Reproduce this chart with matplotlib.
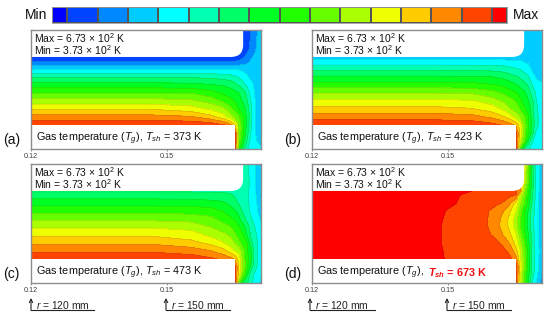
"""Gas temperature contours in the reactor channel for four shower head temperatures."""
import matplotlib
matplotlib.use("Agg")
import matplotlib.pyplot as plt
from matplotlib.patches import PathPatch, Rectangle
from matplotlib.path import Path
import numpy as np

plt.rcParams["font.family"] = ["Liberation Sans", "DejaVu Sans"]
plt.rcParams["mathtext.fontset"] = "custom"
plt.rcParams["mathtext.rm"] = "Liberation Sans"
plt.rcParams["mathtext.it"] = "Liberation Sans:italic"
plt.rcParams["mathtext.bf"] = "Liberation Sans:bold"
plt.rcParams["mathtext.bfit"] = "Liberation Sans:italic:bold"

# band edges in K and the colour of each band
levels = [373, 383, 403, 423, 443, 463, 483, 503, 523, 543, 563, 583, 603, 623, 643, 663, 673]
band_colors = ["#0000ff", "#0044ff", "#0088ff", "#00ccff", "#00ffff", "#00ffb0", "#00ff66", "#00ff22",
               "#22ff00", "#66ff00", "#aaff00", "#eeff00", "#ffcc00", "#ff8800", "#ff4400", "#ff0000"]

# radius (mm) and height (mm) of the sampled grid
z_mm = [0, 1.8, 3.5, 5.3, 7.1, 8.8, 10.6, 12.4, 14.1, 15.9, 17.6, 19.4, 20.3, 22.1, 24.3, 26.3]
r_mm = [120, 146.5, 155.3, 159.7, 162.4, 164.1, 165, 165.9, 166.8, 167.7, 168.5, 169.4, 170.7]
r_mm_d = [120, 142.1, 147.6, 149.8, 153.1, 156.4, 158.6, 160.8, 162.4, 163.7, 165, 165.9, 166.8,
          167.7, 168.5, 169.4, 170.1, 170.7]

# temperature (K), one row per height, bottom first
temp_a = [
    [680, 680, 680, 680, 680, 680, 650, 530, 490, 465, 455, 450, 445],
    [680, 680, 680, 680, 680, 680, 650, 550, 510, 480, 455, 445, 438],
    [680, 680, 680, 680, 680, 680, 650, 557, 526, 490, 462, 444, 436],
    [659, 659, 659, 655, 645, 628, 600, 560, 528, 495, 470, 444, 436],
    [630, 630, 625, 610, 592, 570, 556, 545, 524, 497, 470, 444, 436],
    [602, 602, 593, 580, 568, 548, 538, 523, 512, 495, 470, 444, 436],
    [571, 571, 567, 555, 540, 529, 521, 512, 500, 483, 463, 444, 436],
    [542, 542, 542, 530, 519, 511, 508, 502, 492, 478, 455, 441, 436],
    [512, 512, 510, 505, 501, 497, 490, 481, 470, 458, 447, 441, 436],
    [480, 480, 480, 478, 475, 471, 466, 461, 452, 445, 440, 437, 436],
    [441, 441, 441, 441, 441, 441, 441, 441, 439, 438, 437, 437, 437],
    [402, 402, 402, 402, 402, 402, 402, 405, 410, 416, 425, 432, 437],
    [385, 385, 385, 385, 385, 385, 385, 390, 400, 410, 419, 427, 436],
    [385, 385, 385, 385, 385, 385, 385, 385, 385, 397, 408, 420, 434],
    [385, 385, 385, 385, 385, 385, 385, 385, 385, 394, 405, 418, 433],
    [385, 385, 385, 385, 385, 385, 385, 385, 385, 395, 404, 417, 432],
]
temp_b = [
    [680, 680, 680, 680, 680, 680, 650, 540, 483, 465, 458, 453, 448],
    [680, 680, 680, 680, 680, 680, 650, 590, 545, 500, 466, 455, 450],
    [680, 680, 680, 680, 680, 680, 650, 600, 555, 525, 497, 461, 452],
    [659, 659, 657, 650, 640, 628, 618, 595, 558, 527, 500, 470, 452],
    [634, 634, 630, 618, 604, 586, 574, 563, 547, 525, 497, 470, 452],
    [610, 610, 605, 594, 578, 561, 556, 543, 528, 514, 497, 467, 452],
    [588, 588, 585, 573, 559, 549, 541, 527, 516, 504, 490, 465, 450],
    [562, 562, 560, 550, 539, 528, 524, 517, 507, 495, 476, 461, 447],
    [533, 533, 531, 525, 519, 511, 505, 497, 490, 481, 465, 450, 445],
    [506, 506, 505, 503, 497, 489, 486, 480, 472, 466, 451, 441, 439],
    [479, 479, 478, 477, 474, 468, 465, 463, 456, 450, 441, 438, 437],
    [448, 448, 448, 448, 447, 446, 445, 444, 441, 439, 438, 438, 437],
    [432, 432, 432, 432, 432, 432, 432, 432, 433, 434, 435, 436, 437],
    [430, 430, 430, 430, 430, 430, 430, 430, 425, 428, 430, 432, 435],
    [430, 430, 430, 430, 430, 430, 430, 430, 425, 428, 430, 432, 435],
    [430, 430, 430, 430, 430, 430, 430, 430, 425, 428, 430, 432, 435],
]
temp_c = [
    [680, 680, 680, 680, 680, 680, 650, 545, 500, 485, 470, 455, 440],
    [680, 680, 680, 680, 680, 680, 650, 590, 545, 505, 472, 458, 445],
    [680, 680, 680, 680, 680, 680, 650, 600, 560, 530, 495, 470, 450],
    [657, 657, 654, 647, 638, 630, 620, 595, 555, 528, 510, 475, 452],
    [640, 640, 634, 623, 610, 593, 581, 573, 550, 527, 505, 470, 452],
    [620, 620, 610, 598, 585, 571, 562, 549, 534, 523, 490, 472, 452],
    [600, 600, 592, 578, 569, 559, 546, 536, 523, 501, 480, 468, 450],
    [580, 580, 576, 562, 549, 543, 537, 523, 510, 492, 475, 463, 445],
    [558, 558, 555, 548, 537, 526, 519, 506, 493, 476, 466, 455, 441],
    [537, 537, 535, 533, 521, 510, 505, 497, 478, 470, 458, 447, 437],
    [515, 515, 514, 510, 507, 497, 490, 481, 476, 468, 457, 447, 435],
    [492, 492, 492, 491, 488, 484, 481, 479, 476, 468, 456, 445, 434],
    [480, 480, 480, 480, 480, 481, 480, 479, 477, 468, 456, 445, 433],
    [478, 478, 478, 478, 478, 478, 478, 478, 478, 470, 458, 445, 432],
    [478, 478, 478, 478, 478, 478, 478, 478, 478, 468, 456, 444, 430],
    [478, 478, 478, 478, 478, 478, 478, 478, 478, 468, 458, 445, 432],
]
temp_d = [
    [670, 670, 670, 670, 670, 670, 670, 670, 670, 670, 655, 583, 543, 503, 463, 443, 430, 415],
    [670, 670, 670, 670, 670, 670, 670, 670, 670, 670, 655, 590, 548, 510, 476, 450, 436, 422],
    [670, 670, 670, 670, 670, 670, 670, 670, 670, 670, 655, 597, 553, 518, 482, 455, 441, 425],
    [670, 670, 668, 661, 658, 655, 653, 651, 649, 647, 632, 590, 553, 515, 482, 456, 442, 425],
    [670, 670, 666, 661, 657, 654, 652, 649, 646, 638, 609, 586, 553, 518, 483, 457, 443, 425],
    [670, 670, 665, 660, 656, 652, 650, 647, 637, 620, 596, 570, 543, 510, 480, 455, 441, 425],
    [670, 670, 665, 660, 656, 652, 647, 637, 620, 606, 585, 556, 530, 505, 478, 453, 438, 425],
    [670, 670, 665, 660, 655, 649, 644, 629, 614, 597, 573, 546, 523, 498, 473, 453, 438, 425],
    [670, 670, 667, 660, 655, 650, 644, 630, 614, 596, 573, 545, 523, 498, 473, 453, 438, 425],
    [670, 668, 668, 662, 658, 650, 645, 633, 622, 605, 583, 553, 528, 502, 476, 453, 438, 425],
    [670, 670, 670, 668, 660, 654, 650, 646, 641, 625, 595, 568, 543, 517, 483, 456, 440, 425],
    [670, 670, 670, 670, 662, 656, 654, 651, 649, 647, 643, 583, 556, 523, 488, 458, 441, 425],
    [670, 670, 670, 670, 668, 660, 656, 653, 650, 648, 645, 630, 563, 530, 492, 460, 443, 425],
    [670, 670, 670, 670, 670, 670, 670, 670, 670, 670, 650, 620, 583, 543, 498, 460, 443, 425],
    [670, 670, 670, 670, 670, 670, 670, 670, 670, 670, 650, 620, 590, 548, 498, 461, 445, 425],
    [670, 670, 670, 670, 670, 670, 670, 670, 670, 670, 650, 620, 600, 553, 503, 463, 446, 423],
]

# left and top edge of each panel in pixels
panel_boxes = {"a": (31, 30), "b": (312, 30), "c": (31, 164), "d": (312, 164)}
panel_tsh = {"a": 373, "b": 423, "c": 473, "d": 673}
panel_temp = {"a": temp_a, "b": temp_b, "c": temp_c, "d": temp_d}

W, H = 550, 315
PW, PH = 230, 119
GRAY = "#8c8c8c"


def draw_panel(fig, key):
    x0, y0 = panel_boxes[key]
    ax = fig.add_axes([x0 / W, 1 - (y0 + PH) / H, PW / W, PH / H])
    r = r_mm_d if key == "d" else r_mm
    temp = np.array(panel_temp[key], dtype=float)
    ax.contourf(r, z_mm, temp, levels=levels, colors=band_colors)
    ax.contour(r, z_mm, temp, levels=levels[1:-1], colors="#303030", linewidths=0.3, alpha=0.3)

    # the two solid walls are blank
    ax.add_patch(Rectangle((120, 0), 45, 5.25, fc="white", ec="none", zorder=3))
    top = Path([(120, 20.3), (164.1, 20.3), (166.8, 20.3), (166.8, 23), (166.8, 26.3), (120, 26.3), (120, 20.3)],
               [Path.MOVETO, Path.LINETO, Path.CURVE3, Path.CURVE3, Path.LINETO, Path.LINETO, Path.CLOSEPOLY])
    ax.add_patch(PathPatch(top, fc="white", ec="none", zorder=3))

    ax.set_xlim(120, 170.74)
    ax.set_ylim(0, 26.25)
    ax.set_xticks([120, 150])
    ax.set_xticklabels(["0.12", "0.15"], fontsize=5.2, color="#404040")
    ax.set_yticks([])
    ax.tick_params(axis="x", length=1.5, width=0.5, color="#606060", pad=1.5)
    for spine in ax.spines.values():
        spine.set_color(GRAY)
        spine.set_linewidth(1.0)
        spine.set_zorder(5)
    return ax


def r_marker(ov, x0, x1, label):
    ov.annotate("", xy=(x0, 298), xytext=(x0, 310),
                arrowprops=dict(arrowstyle="->", lw=0.8, color="#222222", shrinkA=0, shrinkB=0, mutation_scale=6))
    ov.plot([x0, x1], [310, 310], color="#222222", lw=0.8)
    ov.text(x0 + 5, 305, label, fontsize=7.4, va="center", ha="left", color="#222222")


fig = plt.figure(figsize=(W / 100, H / 100), dpi=100)
for key in panel_boxes:
    draw_panel(fig, key)

# colour scale on top
cb = fig.add_axes([52 / W, 1 - 22.5 / H, 455 / W, 15.5 / H])
cb_edges = np.array(levels, dtype=float)
cb.pcolormesh(cb_edges, [0, 1], np.arange(16).reshape(1, -1),
              cmap=matplotlib.colors.ListedColormap(band_colors), edgecolors="#555555", linewidth=0.3)
cb.set_xticks([])
cb.set_yticks([])
for spine in cb.spines.values():
    spine.set_color("#999999")
    spine.set_linewidth(0.6)

# overlay in pixel coordinates for all the labels
ov = fig.add_axes([0, 0, 1, 1], zorder=10)
ov.set_xlim(0, W)
ov.set_ylim(H, 0)
ov.axis("off")
ov.patch.set_alpha(0)

ov.text(25, 15, "Min", fontsize=10, va="center", ha="left", color="#111111")
ov.text(513, 15, "Max", fontsize=10, va="center", ha="left", color="#111111")

for key, (x0, y0) in panel_boxes.items():
    ov.text(x0 + 3, y0 + 8, "Max = 6.73 × 10$^{2}$ K", fontsize=7.5, va="center", color="#111111")
    ov.text(x0 + 3, y0 + 20.5, "Min = 3.73 × 10$^{2}$ K", fontsize=7.5, va="center", color="#111111")
    ov.text(x0 - 28, y0 + 110, f"({key})", fontsize=10, va="center", color="#111111")
    if key == "d":
        ov.text(x0 + 5, y0 + 109, "Gas temperature ($T_{g}$),", fontsize=7.8, va="center", color="#111111")
        ov.text(x0 + 116, y0 + 109, r"$\mathbfit{T}_{\mathbfit{sh}}$ = 673 K", fontsize=7.8, va="center",
                color="#ee1111", fontweight="bold")
    else:
        ov.text(x0 + 5, y0 + 109, f"Gas temperature ($T_{{g}}$), $T_{{sh}}$ = {panel_tsh[key]} K", fontsize=7.8,
                va="center", color="#111111")

r_marker(ov, 31, 94, "$r$ = 120 mm")
r_marker(ov, 166, 230, "$r$ = 150 mm")
r_marker(ov, 310, 375, "$r$ = 120 mm")
r_marker(ov, 447, 511, "$r$ = 150 mm")

fig.savefig("out.png", dpi=100)
